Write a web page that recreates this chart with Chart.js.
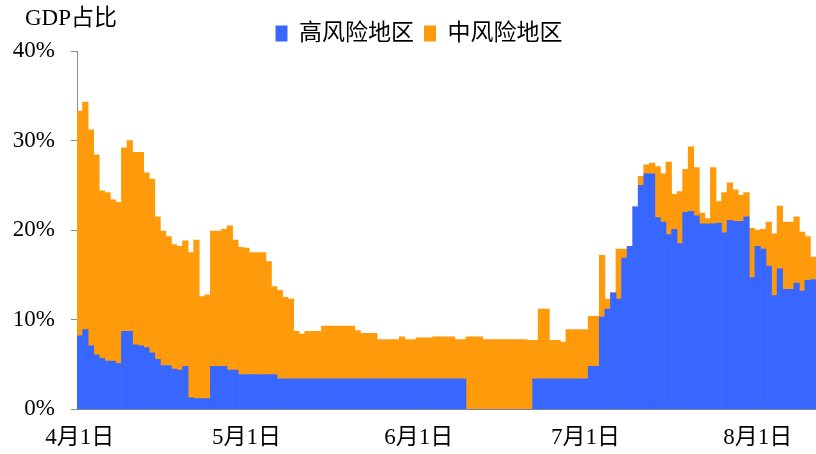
<!DOCTYPE html>
<html>
<head>
<meta charset="utf-8">
<script src="https://cdn.jsdelivr.net/npm/chart.js@4"></script>
<style>
  body { margin: 0; background: #fff; }
  #wrap { width: 816px; height: 454px; }
</style>
</head>
<body>
<div id="wrap"><canvas id="barGraph" width="816" height="454"></canvas></div>
<script>
// months shown and how many days of each are in the data (Apr 1 - Aug 11)
const months = [4, 5, 6, 7, 8];
const daysShown = [30, 31, 30, 31, 11];

const titleText = "GDP占比";
const seriesNames = ["高风险地区", "中风险地区"];
const yTicks = [0, 10, 20, 30, 40];

// share of GDP, % (one value per day)
const highRisk = [
  8.2, 8.9, 7.1, 6.1, 5.7, 5.4, 5.4, 5.1, 8.7, 8.7, 7.2, 7.1, 6.9, 6.3, 5.6, 4.9, 4.9, 4.5, 4.4, 4.8, 1.3, 1.2,
  1.2, 1.2, 4.8, 4.8, 4.8, 4.4, 4.4, 3.9, 3.9, 3.9, 3.9, 3.9, 3.9, 3.9, 3.4, 3.4, 3.4, 3.4, 3.4, 3.4, 3.4, 3.4,
  3.4, 3.4, 3.4, 3.4, 3.4, 3.4, 3.4, 3.4, 3.4, 3.4, 3.4, 3.4, 3.4, 3.4, 3.4, 3.4, 3.4, 3.4, 3.4, 3.4, 3.4, 3.4, 3.4, 3.4, 3.4, 3.4,
  0, 0, 0, 0, 0, 0, 0, 0, 0, 0, 0, 0,
  3.4, 3.4, 3.4, 3.4, 3.4, 3.4, 3.4, 3.4, 3.4, 3.4,
  4.8, 4.8, 10.3, 11.2, 13.0, 12.3, 16.9, 18.2, 22.6, 25.0, 26.3, 26.3, 21.4, 20.9, 19.5, 20.1, 18.5, 22.0, 22.1, 21.6,
  20.7, 20.7, 20.7, 20.8, 19.7, 21.1, 21.0, 21.0, 21.5, 14.7, 18.2, 17.9, 16.0, 12.7, 15.7, 13.4, 13.4, 14.1, 13.2, 14.4, 14.5
];
const mediumRisk = [
  25.1, 25.4, 24.1, 22.3, 18.7, 18.8, 18.0, 18.0, 20.5, 21.3, 21.5, 21.6, 19.5, 19.4, 15.9, 15.0, 14.4, 13.9, 13.8, 14.0, 16.2, 17.7,
  11.4, 11.6, 15.1, 15.1, 15.3, 16.1, 14.5, 14.2, 14.1, 13.6, 13.6, 13.6, 12.6, 9.8, 9.9, 9.1, 8.9, 5.3, 5.0, 5.3, 5.3, 5.3,
  5.9, 5.9, 5.9, 5.9, 5.9, 5.9, 5.4, 5.1, 5.1, 5.1, 4.4, 4.4, 4.4, 4.4, 4.7, 4.4, 4.4, 4.6, 4.6, 4.6, 4.7, 4.7, 4.7, 4.7, 4.4, 4.4,
  8.1, 8.1, 8.1, 7.8, 7.8, 7.8, 7.8, 7.8, 7.8, 7.8, 7.8, 7.7,
  4.3, 7.8, 7.8, 4.3, 4.3, 4.1, 5.5, 5.5, 5.5, 5.5,
  5.6, 5.6, 6.9, 1.1, 0, 5.6, 1.0, 0, 0, 1.0, 1.0, 1.2, 5.7, 5.4, 8.1, 3.9, 5.8, 4.8, 7.2, 5.4,
  1.2, 0.6, 6.3, 2.4, 4.5, 4.2, 3.5, 2.9, 2.7, 5.5, 1.8, 2.2, 4.9, 6.9, 7.0, 7.5, 7.5, 7.4, 6.6, 4.9, 2.5
];

const FONT = '"Liberation Serif", "Noto Sans CJK SC", serif';
const AXIS_GRAY = "#8c8c8c";

function buildLabels() {
  const labels = [];
  const firstOfMonth = [];
  months.forEach((m, i) => {
    for (let d = 1; d <= daysShown[i]; d++) {
      labels.push(`${m}月${d}日`);
      firstOfMonth.push(d === 1);
    }
  });
  return { labels, firstOfMonth };
}

// caption in the top left corner, plus a small nudge of the legend
const captionPlugin = {
  id: "caption",
  afterLayout(chart) {
    const lg = chart.legend;
    if (lg) {
      lg.left += 11;
      lg.right += 11;
      lg.top += 4;
      lg.bottom += 4;
    }
  },
  afterDraw(chart) {
    const ctx = chart.ctx;
    ctx.save();
    ctx.font = "23px " + FONT;
    ctx.fillStyle = "#000";
    ctx.textBaseline = "middle";
    ctx.textAlign = "left";
    ctx.fillText(titleText, 25, 19);
    ctx.restore();
  }
};

document.addEventListener("DOMContentLoaded", function () {
  const { labels, firstOfMonth } = buildLabels();
  const canvas = document.getElementById("barGraph");

  new Chart(canvas, {
    type: "bar",
    data: {
      labels: labels,
      datasets: [
        {
          label: seriesNames[0],
          data: highRisk,
          backgroundColor: "#3767ff",
          borderWidth: 0
        },
        {
          label: seriesNames[1],
          data: mediumRisk,
          backgroundColor: "#ff9a0b",
          borderWidth: 0
        }
      ]
    },
    options: {
      responsive: false,
      animation: false,
      layout: { padding: { top: 8, left: 0, right: 0, bottom: 0 } },
      datasets: {
        bar: { barPercentage: 1.0, categoryPercentage: 1.0 }
      },
      plugins: {
        tooltip: { enabled: false },
        legend: {
          position: "top",
          align: "center",
          labels: {
            boxWidth: 12,
            boxHeight: 16,
            padding: 10,
            color: "#000",
            font: { family: FONT, size: 23 }
          }
        }
      },
      scales: {
        x: {
          stacked: true,
          afterFit: function (scale) {
            scale.height -= 6;
          },
          grid: {
            offset: true,
            drawOnChartArea: false,
            drawTicks: true,
            tickLength: 7,
            color: (ctx) => (firstOfMonth[ctx.index] ? AXIS_GRAY : "rgba(0,0,0,0)")
          },
          border: { display: true, color: AXIS_GRAY, width: 1 },
          ticks: {
            autoSkip: false,
            maxRotation: 0,
            minRotation: 0,
            padding: 8,
            color: "#000",
            font: { family: FONT, size: 23 },
            callback: function (value, index) {
              return firstOfMonth[index] ? labels[index] : null;
            }
          }
        },
        y: {
          stacked: true,
          min: yTicks[0],
          max: yTicks[yTicks.length - 1],
          afterFit: function (scale) {
            scale.width = 77;
          },
          grid: {
            drawOnChartArea: false,
            drawTicks: true,
            tickLength: 6,
            color: AXIS_GRAY
          },
          border: { display: true, color: AXIS_GRAY, width: 1 },
          ticks: {
            stepSize: 10,
            padding: 16,
            color: "#000",
            font: { family: FONT, size: 23 },
            callback: function (value) {
              return value + "%";
            }
          }
        }
      }
    },
    plugins: [captionPlugin]
  });
});
</script>
</body>
</html>
